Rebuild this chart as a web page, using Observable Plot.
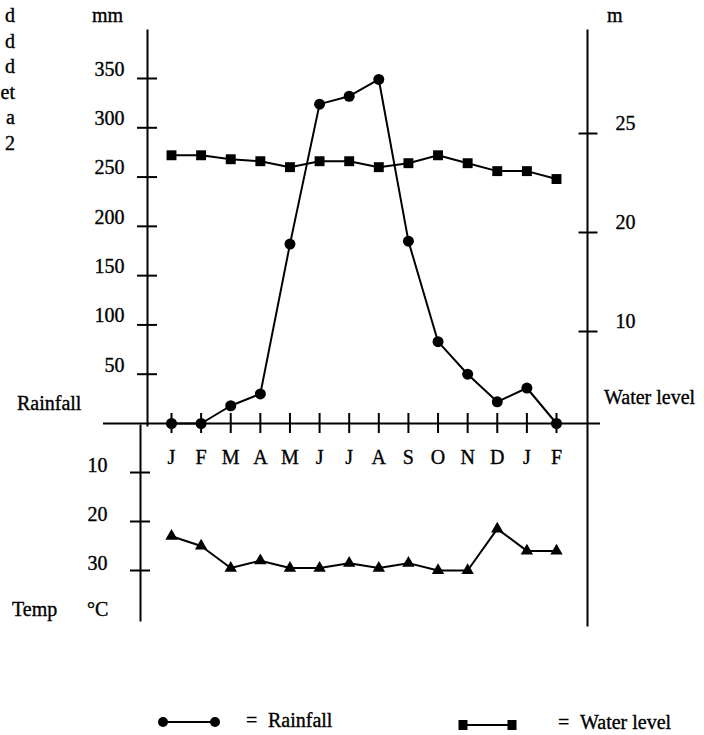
<!DOCTYPE html>
<html><head><meta charset="utf-8">
<script src="https://cdn.jsdelivr.net/npm/d3@7"></script>
<script src="https://cdn.jsdelivr.net/npm/@observablehq/plot@0.6"></script>
<style>
html,body{margin:0;padding:0;background:#fff;overflow:hidden}
#chart{position:relative;width:704px;height:735px;}
#chart svg{position:absolute;left:0;top:0;}
#chart text{stroke:black;stroke-width:0.35px;}
</style></head><body><div id="chart"></div>
<script>
// ---- data ----
const months = ["J","F","M","A","M","J","J","A","S","O","N","D","J","F"];
const rainfall = [0,0,18,30,182,324,332,349,185,83,50,22,36,0];          // mm
const waterLevel = [23.9,23.9,23.7,23.6,23.3,23.6,23.6,23.3,23.5,23.9,23.5,23.1,23.1,22.7]; // m
const temperature = [23,25,29.5,28,29.5,29.5,28.5,29.5,28.5,30,30,21.5,26,26]; // °C (downwards)
const rainTicks = [50,100,150,200,250,300,350];
const waterTicks = [10,20,25];
const tempTicks = [10,20,30];
const leftCutText = ["d","d","d","et","a","2"];

const W = 704, H = 735;
const FONT = "'Liberation Serif','Times New Roman',serif";
const style = `background:transparent;font-family:${FONT};font-size:20px;color:black;overflow:visible;max-width:none;`;
const idx = months.map((m, i) => i);
const rainRows = rainfall.map((v, i) => ({i, v}));
const waterRows = waterLevel.map((v, i) => ({i, v}));
const tempRows = temperature.map((v, i) => ({i, v}));
const xScale = {type: "linear", domain: [0, months.length - 1], range: [171, 556], axis: null};
const chart = document.getElementById("chart");

// baseline + month ticks + month labels
chart.append(Plot.plot({
  width: W, height: H, style,
  marginTop: 413, marginBottom: H - 433, marginLeft: 103, marginRight: W - 600,
  x: xScale,
  y: {type: "linear", domain: [0, 1], range: [423, 413], axis: null},
  marks: [
    Plot.ruleY([0], {strokeWidth: 2}),
    Plot.tickX(idx, {x: d => d, strokeWidth: 2}),
    Plot.axisX({ticks: idx, tickFormat: i => months[i], tickSize: 0, tickPadding: 16, anchor: "bottom", label: null})
  ]
}));

// water level (right axis)
chart.append(Plot.plot({
  width: W, height: H, style,
  marginTop: 30, marginBottom: H - 625, marginLeft: 0, marginRight: W - 587,
  x: xScale,
  y: {type: "linear", domain: [0, ...waterTicks], range: [428, 331, 232, 133]},
  marks: [
    Plot.frame({anchor: "right", strokeWidth: 2}),
    Plot.axisY({anchor: "right", ticks: waterTicks, tickSize: 19, dx: -9.5, strokeWidth: 2, tickFormat: () => "", label: null}),
    Plot.axisY({anchor: "right", ticks: waterTicks, tickSize: 0, tickPadding: 28, dy: -10, tickFormat: d => String(d), label: null}),
    Plot.line(waterRows, {x: "i", y: "v", strokeWidth: 2}),
    Plot.dot(waterRows, {x: "i", y: "v", symbol: "square", r: 5.6, fill: "black"})
  ]
}));

// rainfall (upper left axis)
chart.append(Plot.plot({
  width: W, height: H, style,
  marginTop: 30, marginBottom: H - 425, marginLeft: 147, marginRight: 0,
  x: xScale,
  y: {type: "linear", domain: [0, 350], range: [423, 78]},
  marks: [
    Plot.frame({anchor: "left", strokeWidth: 2}),
    Plot.axisY({ticks: rainTicks, tickSize: 20, dx: 10, strokeWidth: 2, tickFormat: () => "", label: null}),
    Plot.axisY({ticks: rainTicks, tickSize: 0, tickPadding: 23, dy: -9, tickFormat: d => String(d), label: null}),
    Plot.line(rainRows, {x: "i", y: "v", strokeWidth: 2}),
    Plot.dot(rainRows, {x: "i", y: "v", r: 5.5, fill: "black"})
  ]
}));

// temperature (lower left axis, increasing downwards)
chart.append(Plot.plot({
  width: W, height: H, style,
  marginTop: 425, marginBottom: H - 620, marginLeft: 140, marginRight: 0,
  x: xScale,
  y: {type: "linear", domain: [0, 30], range: [423, 570]},
  marks: [
    Plot.frame({anchor: "left", strokeWidth: 2}),
    Plot.axisY({ticks: tempTicks, tickSize: 20, dx: 10, strokeWidth: 2, tickFormat: () => "", label: null}),
    Plot.axisY({ticks: tempTicks, tickSize: 0, tickPadding: 33, dy: -7, tickFormat: d => String(d), label: null}),
    Plot.line(tempRows, {x: "i", y: "v", strokeWidth: 2}),
    Plot.dot(tempRows, {x: "i", y: "v", symbol: "triangle", r: 4.6, fill: "black"})
  ]
}));

// annotations: axis titles, labels, legend
const svg = d3.create("svg").attr("width", W).attr("height", H)
  .style("font-family", FONT).style("font-size", "20px");
const label = (t, x, y, anchor = "start", size = 20) =>
  svg.append("text").attr("x", x).attr("y", y).attr("text-anchor", anchor)
     .style("font-size", size + "px").text(t);
leftCutText.forEach((t, k) => label(t, 15, 22 + k * 25.6, "end"));
label("mm", 92, 22);
label("m", 607, 22);
label("Rainfall", 17, 410);
label("Water level", 604, 404);
label("Temp", 12, 616);
label("°C", 87, 616);
// legend
const lg = svg.append("g");
lg.append("line").attr("x1", 163).attr("x2", 215).attr("y1", 722).attr("y2", 722).attr("stroke", "black").attr("stroke-width", 2);
[163, 215].forEach(x => lg.append("circle").attr("cx", x).attr("cy", 722).attr("r", 5).attr("fill", "black"));
label("=", 246, 727, "start", 20);
label("Rainfall", 268, 727, "start", 20);
lg.append("line").attr("x1", 463).attr("x2", 512).attr("y1", 725).attr("y2", 725).attr("stroke", "black").attr("stroke-width", 2);
[463, 512].forEach(x => lg.append("rect").attr("x", x - 4.5).attr("y", 720).attr("width", 9).attr("height", 10).attr("fill", "black"));
label("=", 558, 729, "start", 20);
label("Water level", 580, 729, "start", 20);
chart.append(svg.node());
</script></body></html>
